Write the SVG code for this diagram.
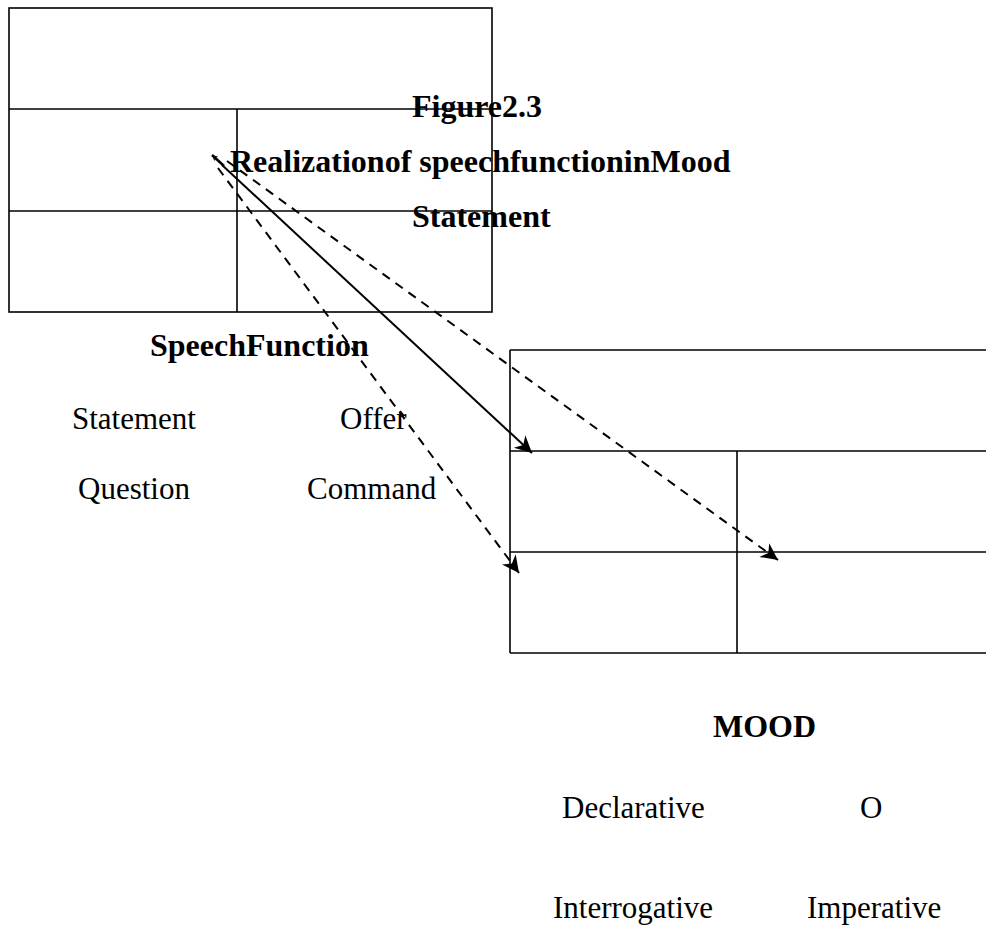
<svg xmlns="http://www.w3.org/2000/svg" width="986" height="928" viewBox="0 0 986 928">
  <style>
    .frame { fill: none; stroke: #000; stroke-width: 1.6; }
    .rule { stroke: #000; stroke-width: 1.6; }
    .title { font-family: "Liberation Serif", "Times New Roman", serif; font-size: 32px; font-weight: bold; fill: #000; }
    .label { font-family: "Liberation Serif", "Times New Roman", serif; font-size: 31px; fill: #000; }
    .solid { stroke: #000; stroke-width: 2; fill: none; }
    .dash { stroke: #000; stroke-width: 2; fill: none; stroke-dasharray: 9 7; }
  </style>
  <defs>
    <marker id="head" viewBox="0 0 10 10" refX="10" refY="5" markerWidth="8" markerHeight="6" markerUnits="userSpaceOnUse" orient="auto">
      <path d="M0,0 L10,5 L0,10 L3,5 Z" fill="#000"/>
    </marker>
    <marker id="bighead" viewBox="0 0 10 10" refX="10" refY="5" markerWidth="22" markerHeight="17" markerUnits="userSpaceOnUse" orient="auto">
      <path d="M0,0 L10,5 L0,10 L3,5 Z" fill="#000"/>
    </marker>
  </defs>

  <!-- speech function table -->
  <g id="speech-table">
    <rect class="frame" x="9" y="8" width="483" height="304"/>
    <line class="rule" x1="9" y1="109" x2="492" y2="109"/>
    <line class="rule" x1="9" y1="211" x2="492" y2="211"/>
    <line class="rule" x1="237" y1="109" x2="237" y2="312"/>
  </g>

  <!-- mood table -->
  <g id="mood-table">
    <line class="rule" x1="510" y1="350" x2="986" y2="350"/>
    <line class="rule" x1="510" y1="451" x2="986" y2="451"/>
    <line class="rule" x1="510" y1="552" x2="986" y2="552"/>
    <line class="rule" x1="510" y1="653" x2="986" y2="653"/>
    <line class="rule" x1="510" y1="350" x2="510" y2="653"/>
    <line class="rule" x1="737" y1="451" x2="737" y2="653"/>
  </g>

  <!-- headings -->
  <g id="caption">
    <text class="title" x="412" y="117">Figure2.3</text>
    <text class="title" x="230" y="172">Realizationof speechfunctioninMood</text>
    <text class="title" x="412" y="227">Statement</text>
  </g>

  <!-- speech function labels -->
  <g id="speech-labels">
    <text class="title" x="150" y="356">SpeechFunction</text>
    <text class="label" x="72" y="429">Statement</text>
    <text class="label" x="340" y="429">Offer</text>
    <text class="label" x="78" y="499">Question</text>
    <text class="label" x="307" y="499">Command</text>
  </g>

  <!-- mood labels -->
  <g id="mood-labels">
    <text class="title" x="713" y="737">MOOD</text>
    <text class="label" x="562" y="818">Declarative</text>
    <text class="label" x="860" y="818">O</text>
    <text class="label" x="553" y="918">Interrogative</text>
    <text class="label" x="807" y="918">Imperative</text>
  </g>

  <!-- connectors -->
  <g id="connectors">
    <line class="solid" x1="222" y1="165" x2="532" y2="453" marker-end="url(#bighead)"/>
    <line class="dash" x1="227" y1="161" x2="778" y2="560" marker-end="url(#bighead)"/>
    <line class="dash" x1="218" y1="168" x2="519" y2="573" marker-end="url(#bighead)"/>
    <path d="M224,166 L212,155" stroke="#000" stroke-width="2.5" marker-end="url(#head)"/>
    <path d="M400,411 L404,416" stroke="#000" stroke-width="2"/>
  </g>
</svg>
